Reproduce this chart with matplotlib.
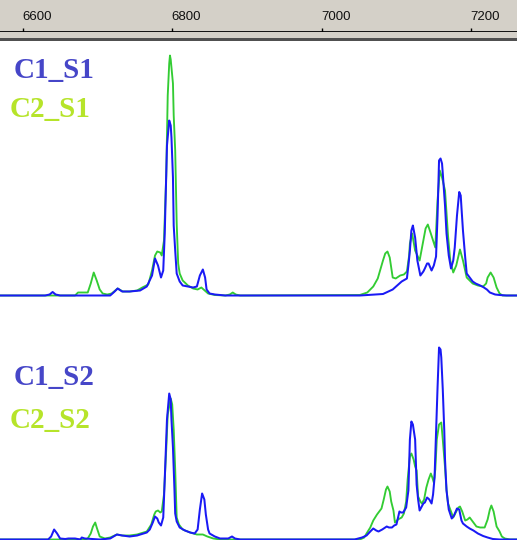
import matplotlib
matplotlib.use("Agg")
import matplotlib.pyplot as plt
from matplotlib.patches import Rectangle
from matplotlib.transforms import blended_transform_factory

# ---------------- data (m/z, intensity) ----------------
tick_values = [6600, 6800, 7000, 7200]
x_range = (6569.6, 7261.3)

s1_c1_mz = [6570, 6630, 6636, 6640, 6644, 6650, 6717, 6723, 6727, 6733, 6743, 6757, 6766, 6773,
            6777, 6781, 6785, 6788, 6790, 6793, 6796, 6798, 6799, 6801, 6802, 6804, 6806, 6810,
            6814, 6821, 6828, 6833, 6837, 6841, 6844, 6846, 6850, 6857, 6871, 6884, 7051, 7082,
            7095, 7107, 7114, 7116, 7118, 7120, 7122, 7123, 7125, 7128, 7132, 7136, 7138, 7141,
            7143, 7147, 7150, 7153, 7155, 7157, 7159, 7161, 7162, 7165, 7167, 7170, 7173, 7176,
            7178, 7181, 7184, 7186, 7187, 7189, 7192, 7194, 7198, 7202, 7206, 7212, 7216, 7221,
            7225, 7232, 7238, 7247, 7261]
s1_c1_int = [0, 0, 1, 3.5, 1, 0, 0, 4, 7, 4, 4, 5, 9, 20,
             37, 30, 18, 25, 62, 150, 175, 170, 158, 118, 70, 45, 22, 14,
             10, 9, 8, 9, 20, 26, 18, 6, 2, 1, 0, 0, 0, 1.5,
             6, 14, 17, 30, 45, 65, 70, 66, 58, 35, 20, 24, 27, 32,
             32, 25, 30, 39, 80, 135, 137, 132, 122, 90, 62, 40, 27, 35,
             48, 80, 103.5, 100, 88, 65, 38, 22, 18, 14, 12, 10, 8.5, 6,
             3, 1, 0.5, 0, 0]

s1_c2_mz = [6570, 6670, 6674, 6687, 6691, 6695, 6699, 6703, 6707, 6713, 6719, 6727, 6734, 6743,
            6753, 6760, 6768, 6773, 6777, 6780, 6784, 6786, 6789, 6792, 6794, 6796, 6797, 6798,
            6801, 6802, 6804, 6806, 6808, 6810, 6814, 6821, 6828, 6834, 6839, 6842, 6848, 6857,
            6871, 6877, 6881, 6885, 6891, 7051, 7061, 7069, 7075, 7082, 7085, 7088, 7091, 7095,
            7099, 7105, 7110, 7114, 7117, 7118, 7121, 7125, 7131, 7136, 7139, 7142, 7146, 7152,
            7155, 7158, 7161, 7165, 7169, 7172, 7176, 7180, 7185, 7189, 7194, 7198, 7202, 7209,
            7216, 7220, 7222, 7226, 7230, 7234, 7238, 7242, 7261]
s1_c2_int = [0, 0, 3, 3, 12, 23, 15, 6, 2, 1, 2, 7, 4, 4,
             5, 8, 11, 25, 40, 44, 43, 40, 55, 120, 200, 232, 240, 236,
             212, 180, 145, 72, 32, 22, 15, 10, 7, 6, 8, 6, 2, 0.5,
             0, 1, 3, 1, 0, 0.5, 3, 9, 17, 35, 42, 44, 38, 18,
             17, 20, 21, 24, 40, 52, 62, 45, 35, 55, 67, 71, 62, 48,
             95, 125, 118, 105, 60, 35, 23, 30, 46, 35, 18, 15, 12, 10,
             9, 12, 18, 23, 18, 8, 2, 0, 0]

s2_c1_mz = [6570, 6634, 6638, 6642, 6646, 6650, 6657, 6661, 6670, 6677, 6679, 6683, 6703, 6717,
            6726, 6733, 6743, 6753, 6766, 6770, 6774, 6777, 6780, 6782, 6785, 6788, 6790, 6793,
            6796, 6798, 6799, 6801, 6803, 6804, 6806, 6810, 6817, 6824, 6830, 6834, 6837, 6840,
            6843, 6845, 6848, 6850, 6857, 6864, 6875, 6880, 6884, 6891, 7044, 7054, 7060, 7065,
            7069, 7073, 7076, 7081, 7087, 7090, 7094, 7097, 7100, 7104, 7106, 7109, 7113, 7116,
            7118, 7120, 7122, 7125, 7127, 7129, 7131, 7136, 7138, 7141, 7144, 7147, 7149, 7151,
            7155, 7157, 7159, 7160, 7162, 7164, 7165, 7167, 7170, 7174, 7177, 7181, 7184, 7187,
            7189, 7194, 7198, 7203, 7209, 7216, 7222, 7229, 7238, 7261]
s2_c1_int = [0, 0, 3, 10, 6, 1, 0.5, 1, 1, 0, 2, 1, 0, 1,
             5, 4, 3, 4, 7, 10, 17, 23, 21, 17, 14, 22, 60, 120,
             146, 140, 120, 92, 50, 26, 18, 12, 9, 7, 6, 10, 30, 46,
             40, 25, 10, 6, 3, 1, 1, 3, 1, 0, 0, 2, 4, 8,
             11, 9, 8, 10, 13, 12, 12, 14, 15, 28, 27, 27, 32, 49,
             100, 118, 115, 100, 55, 40, 29, 36, 37, 42, 40, 36, 45, 62,
             152, 192, 190, 182, 150, 109, 80, 49, 30, 21, 24, 31, 30, 19,
             16, 13, 11, 9, 6, 3.5, 2, 0.5, 0, 0]

s2_c2_mz = [6570, 6683, 6687, 6691, 6694, 6697, 6699, 6703, 6710, 6717, 6726, 6733, 6743, 6753,
            6766, 6772, 6776, 6778, 6781, 6784, 6786, 6789, 6792, 6794, 6798, 6800, 6802, 6804,
            6806, 6809, 6814, 6824, 6833, 6841, 6847, 6855, 6864, 7051, 7057, 7060, 7065, 7069,
            7074, 7080, 7083, 7086, 7088, 7091, 7093, 7096, 7098, 7102, 7107, 7110, 7113, 7115,
            7118, 7120, 7123, 7125, 7127, 7129, 7132, 7134, 7137, 7140, 7143, 7146, 7148, 7150,
            7152, 7154, 7157, 7160, 7162, 7165, 7167, 7169, 7172, 7176, 7180, 7183, 7185, 7188,
            7192, 7195, 7198, 7202, 7207, 7212, 7218, 7222, 7225, 7227, 7230, 7234, 7238, 7241,
            7245, 7252, 7261]
s2_c2_int = [0, 0, 1, 6, 13, 17, 12, 3, 1, 2, 5, 4, 4, 5,
             8, 15, 25, 28, 29, 27, 28, 45, 90, 125, 141, 135, 110, 70,
             22, 15, 10, 7, 5, 5, 3, 1, 0, 0, 2, 6, 12, 19,
             25, 31, 40, 50, 53, 48, 38, 29, 17, 20, 22, 26, 38, 60,
             83, 86, 80, 73, 69, 43, 38, 36, 40, 52, 60, 66, 62, 57,
             70, 100, 115, 117, 100, 72, 50, 36, 30, 22, 28, 32, 33, 28,
             19, 20, 22, 18, 13, 12, 12, 20, 30, 34, 28, 13, 8, 3,
             1, 0, 0]

labels = [("C1_S1", "C2_S1"), ("C1_S2", "C2_S2")]

# ---------------- styling ----------------
W, H = 517, 540
c_blue = "#1a1af5"
c_green = "#33cc33"
lab_blue = "#4646c8"
lab_green = "#b6e42a"
header_gray = "#d4d0c8"

fig = plt.figure(figsize=(W / 100, H / 100), dpi=100)
fig.patch.set_facecolor("white")


def frac_rect(top_px, bottom_px):
    return [0, 1 - bottom_px / H, 1, (bottom_px - top_px) / H]


# header ruler
hdr = fig.add_axes(frac_rect(0, 31.5))
hdr.set_facecolor(header_gray)
hdr.set_xlim(*x_range)
hdr.set_ylim(0, 1)
for s in ("top", "left", "right"):
    hdr.spines[s].set_visible(False)
hdr.spines["bottom"].set_linewidth(1.3)
hdr.spines["bottom"].set_color("black")
hdr.set_xticks(tick_values)
hdr.set_yticks([])
hdr.tick_params(axis="x", direction="in", length=3, width=1, color="black",
                labelbottom=False)
tr = blended_transform_factory(hdr.transData, hdr.transAxes)
for t in tick_values:
    hdr.text(t - 0.8, 0.47, str(t), transform=tr, ha="left", va="center",
             fontsize=9.5, family=["Liberation Sans Narrow", "Liberation Sans", "DejaVu Sans"],
             color="#111111")

# band below the ruler
fig.add_artist(Rectangle((0, 1 - 38.5 / H), 1, 7 / H, transform=fig.transFigure,
                         facecolor=header_gray, edgecolor="none"))
fig.add_artist(Rectangle((0, 1 - 40.5 / H), 1, 2.2 / H, transform=fig.transFigure,
                         facecolor="#505050", edgecolor="none"))

panels = [
    (frac_rect(40.5, 300), (-4.5, 255), s1_c1_mz, s1_c1_int, s1_c2_mz, s1_c2_int,
     labels[0], (78, 117)),
    (frac_rect(300, 540), (-0.5, 239.5), s2_c1_mz, s2_c1_int, s2_c2_mz, s2_c2_int,
     labels[1], (385, 428)),
]

for rect, ylim, x1, y1, x2, y2, (l1, l2), (b1, b2) in panels:
    ax = fig.add_axes(rect)
    ax.set_xlim(*x_range)
    ax.set_ylim(*ylim)
    ax.axis("off")
    ax.plot(x2, y2, color=c_green, lw=1.35, clip_on=False, zorder=2)
    ax.plot(x1, y1, color=c_blue, lw=1.45, clip_on=False, zorder=3)
    fig.text(14 / W, 1 - b1 / H, l1, color=lab_blue, fontsize=21, fontweight="bold",
             family="Liberation Serif", ha="left", va="baseline")
    fig.text(10 / W, 1 - b2 / H, l2, color=lab_green, fontsize=21, fontweight="bold",
             family="Liberation Serif", ha="left", va="baseline")

fig.savefig("out.png", dpi=100)
